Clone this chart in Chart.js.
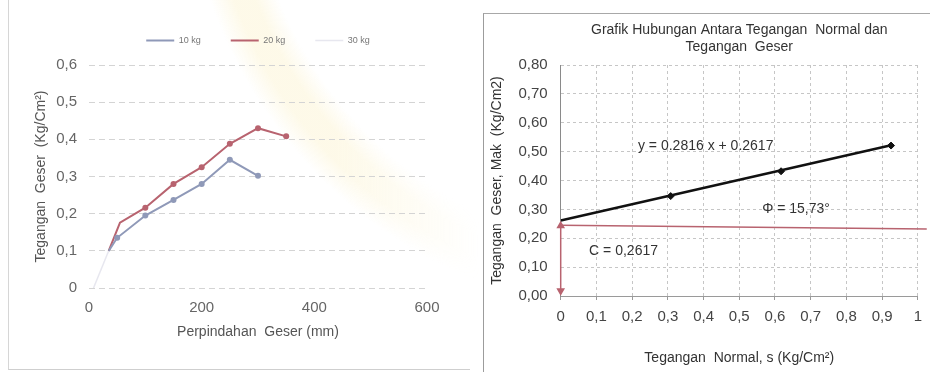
<!DOCTYPE html>
<html>
<head>
<meta charset="utf-8">
<script src="https://cdn.jsdelivr.net/npm/chart.js@4/dist/chart.umd.min.js"></script>
<style>
  html, body { margin: 0; padding: 0; width: 930px; height: 372px; overflow: hidden; background: #fff; }
  .box { position: absolute; }
  #tint { position: absolute; left: 0; top: 0; width: 480px; height: 372px;
    background: radial-gradient(circle at 650px -150px, rgba(255,255,255,0) 0, rgba(255,255,255,0) 400px, rgba(251,240,196,0.38) 422px, rgba(251,240,196,0.38) 442px, rgba(255,255,255,0) 465px);
    -webkit-mask-image: linear-gradient(to right, #000 70%, transparent 100%);
    mask-image: linear-gradient(to right, #000 70%, transparent 100%); }
  #leftWrap { left: 0; top: 0; width: 470px; height: 372px; }
  #rightWrap { left: 470px; top: 0; width: 460px; height: 372px; }
  .frame { position: absolute; box-sizing: border-box; }
  #frameLeft { left: 8px; top: -2px; width: 462px; height: 372px; border-left: 1px solid #d6d6d6; border-bottom: 1px solid #cfcfcf; }
  #frameRight { left: 483px; top: 13px; width: 460px; height: 380px; border-left: 1px solid #9c9c9c; border-top: 1px solid #a8a8a8; }
</style>
</head>
<body>
<div id="tint"></div>
<div class="box" id="leftWrap"><canvas id="shearCurve"></canvas></div>
<div class="frame" id="frameLeft"></div>
<div class="frame" id="frameRight"></div>
<div class="box" id="rightWrap"><canvas id="envelope"></canvas></div>
<script>
// ---- Kurva tegangan geser vs perpindahan ----
const seriesNames = ['10 kg', '20 kg', '30 kg'];
const displacement10 = [35, 50, 100, 150, 200, 250, 300];
const shear10 = [0.100, 0.135, 0.195, 0.237, 0.280, 0.345, 0.302];
const displacement20 = [35, 55, 100, 150, 200, 250, 300, 350];
const shear20 = [0.100, 0.176, 0.216, 0.280, 0.325, 0.388, 0.430, 0.408];
const displacement30 = [8, 35];
const shear30 = [0.000, 0.100];
const curveXTicks = ['0', '200', '400', '600'];
const curveYTicks = ['0', '0,1', '0,2', '0,3', '0,4', '0,5', '0,6'];

// ---- Garis keruntuhan (tegangan normal vs tegangan geser maks) ----
const normalStress = [0.308, 0.617, 0.925];
const maxShear = [0.346, 0.432, 0.521];
const fitSlope = 0.2816;
const fitIntercept = 0.2617;
const fitRange = [0, 0.925];
const frictionAngle = '15,73°';
const cohesionText = '0,2617';
const refLineX = [0, 1.025];
const refLineY = [0.245, 0.232];
const arrowY = [0.243, 0.018];
const envXTicks = ['0', '0,1', '0,2', '0,3', '0,4', '0,5', '0,6', '0,7', '0,8', '0,9', '1'];
const envYTicks = ['0,00', '0,10', '0,20', '0,30', '0,40', '0,50', '0,60', '0,70', '0,80'];

const zip = (xs, ys) => xs.map((x, i) => ({ x, y: ys[i] }));
const FONT = "'Liberation Sans', Arial, sans-serif";
const blue = '#8f99b8';
const red = '#b8636f';
const faint = 'rgba(215,215,228,0.6)';

// spacing below the legend
const legendGap = {
  id: 'legendGap',
  beforeInit(chart) {
    const legend = chart.legend;
    if (!legend) return;
    const fit = legend.fit;
    legend.fit = function () { fit.call(legend); this.height += 10; };
  }
};

new Chart(document.getElementById('shearCurve'), {
  type: 'scatter',
  data: {
    datasets: [
      { label: seriesNames[0], data: zip(displacement10, shear10), showLine: true,
        borderColor: blue, backgroundColor: blue, borderWidth: 2,
        pointRadius: [0, 3, 3, 3, 3, 3, 3], pointBorderWidth: 0 },
      { label: seriesNames[1], data: zip(displacement20, shear20), showLine: true,
        borderColor: red, backgroundColor: red, borderWidth: 2,
        pointRadius: [0, 0, 3, 3, 3, 3, 3, 3], pointBorderWidth: 0 },
      { label: seriesNames[2], data: zip(displacement30, shear30), showLine: true,
        borderColor: faint, backgroundColor: faint, borderWidth: 1.5,
        pointRadius: 0 }
    ]
  },
  options: {
    responsive: true, maintainAspectRatio: false, animation: false,
    layout: { padding: { top: 6, right: 43, left: 0, bottom: 0 } },
    plugins: {
      tooltip: { enabled: false },
      legend: {
        display: true, position: 'top', fullSize: false,
        labels: {
          usePointStyle: true, pointStyle: 'line', pointStyleWidth: 28,
          font: { family: FONT, size: 9 }, color: '#777', padding: 30,
          generateLabels: (chart) => Chart.defaults.plugins.legend.labels.generateLabels(chart).map((item, i) => {
            const ds = chart.data.datasets[i];
            return Object.assign(item, { strokeStyle: ds.borderColor, fillStyle: ds.borderColor, lineWidth: i === 2 ? 1.5 : 2 });
          })
        }
      }
    },
    scales: {
      x: {
        type: 'linear', min: 0, max: 600,
        afterFit: s => { s.height = 84; },
        grid: { display: false, drawTicks: false }, border: { display: false },
        ticks: { stepSize: 200, padding: 11, color: '#666', font: { family: FONT, size: 15 },
          callback: (v) => curveXTicks[Math.round(v / 200)] },
        title: { display: true, text: 'Perpindahan  Geser (mm)', color: '#555',
          font: { family: FONT, size: 14 }, padding: { top: 0, bottom: 31 } }
      },
      y: {
        type: 'linear', min: 0, max: 0.6,
        afterFit: s => { s.width = 89; },
        grid: { color: '#d4d4d4', drawTicks: false }, border: { display: false, dash: [6, 4] },
        ticks: { stepSize: 0.1, padding: 12, color: '#666', font: { family: FONT, size: 15 },
          callback: (v) => curveYTicks[Math.round(v * 10)] },
        title: { display: true, text: 'Tegangan  Geser  (Kg/Cm²)', color: '#555',
          font: { family: FONT, size: 14 }, padding: { top: 33, bottom: 0 } }
      }
    }
  },
  plugins: [legendGap]
});

// labels written inside the plot at data coordinates
const envelopeNotes = {
  id: 'envelopeNotes',
  afterDatasetsDraw(chart) {
    const { ctx, scales: { x, y } } = chart;
    const notes = [
      { text: 'y = ' + fitSlope.toFixed(4) + ' x + ' + fitIntercept.toFixed(4), x: 0.406, y: 0.519 },
      { text: 'Φ = ' + frictionAngle, x: 0.659, y: 0.301 },
      { text: 'C = ' + cohesionText, x: 0.176, y: 0.156 }
    ];
    ctx.save();
    ctx.font = '14px ' + FONT;
    ctx.fillStyle = '#333';
    ctx.textAlign = 'center';
    ctx.textBaseline = 'middle';
    notes.forEach(n => ctx.fillText(n.text, x.getPixelForValue(n.x), y.getPixelForValue(n.y)));
    ctx.restore();
  }
};

new Chart(document.getElementById('envelope'), {
  type: 'scatter',
  data: {
    datasets: [
      { label: 'ref', data: zip(refLineX, refLineY), showLine: true, borderColor: red,
        borderWidth: 1.5, pointRadius: 0, clip: false },
      { label: 'C', data: zip([0, 0], arrowY), showLine: true, borderColor: red, backgroundColor: red,
        borderWidth: 1.5, pointStyle: 'triangle', pointRadius: 3.5, pointRotation: [0, 180], clip: false },
      { label: 'fit', data: zip(fitRange, fitRange.map(v => fitSlope * v + fitIntercept)), showLine: true,
        borderColor: '#111', borderWidth: 2.5, pointRadius: 0 },
      { label: 'data', data: zip(normalStress, maxShear), showLine: false,
        borderColor: '#111', backgroundColor: '#111', pointStyle: 'rectRot', pointRadius: 3.5, clip: false }
    ]
  },
  options: {
    responsive: true, maintainAspectRatio: false, animation: false,
    layout: { padding: { top: 14, right: 9, left: 0, bottom: 0 } },
    plugins: {
      tooltip: { enabled: false },
      legend: { display: false },
      title: {
        display: true, fullSize: false,
        text: ['Grafik Hubungan Antara Tegangan  Normal dan', 'Tegangan  Geser'],
        color: '#333', font: { family: FONT, size: 14, weight: 'normal', lineHeight: 1.25 },
        padding: { top: 7, bottom: 9 }
      }
    },
    scales: {
      x: {
        type: 'linear', min: 0, max: 1,
        afterFit: s => { s.height = 76; },
        grid: { color: '#c6c6c6', drawTicks: true, tickLength: 4, tickColor: '#9a9a9a' },
        border: { display: true, color: '#9a9a9a', width: 1, dash: [3, 3] },
        ticks: { stepSize: 0.1, padding: 8, color: '#444', font: { family: FONT, size: 15 },
          callback: (v) => envXTicks[Math.round(v * 10)] },
        title: { display: true, text: 'Tegangan  Normal, s (Kg/Cm²)', color: '#333',
          font: { family: FONT, size: 14 }, padding: { top: 0, bottom: 5 } }
      },
      y: {
        type: 'linear', min: 0, max: 0.8,
        afterFit: s => { s.width = 90.7; },
        grid: { color: '#c6c6c6', drawTicks: false },
        border: { display: true, color: '#8a8a8a', width: 1, dash: [3, 3] },
        ticks: { stepSize: 0.1, padding: 13, color: '#444', font: { family: FONT, size: 15 },
          callback: (v) => envYTicks[Math.round(v * 10)] },
        title: { display: true, text: 'Tegangan  Geser, Mak  (Kg/Cm2)', color: '#333',
          font: { family: FONT, size: 14 }, padding: { top: 19, bottom: 0 } }
      }
    }
  },
  plugins: [envelopeNotes]
});
</script>
</body>
</html>
